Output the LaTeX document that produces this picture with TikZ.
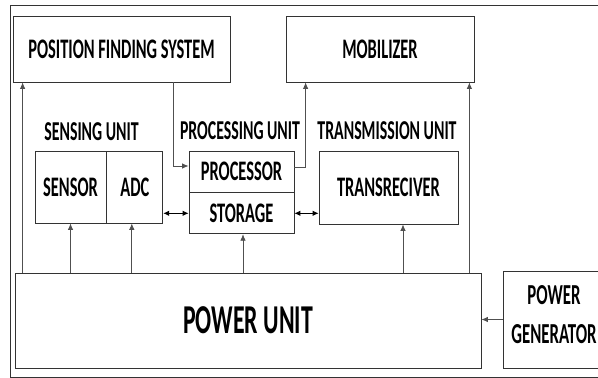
\documentclass[tikz,border=0pt]{standalone}
\usepackage{fontspec}
\usepackage{graphicx}
\setmainfont{Carlito}
\usetikzlibrary{arrows.meta}
\newcommand{\cz}[1]{\scalebox{0.58}[1]{#1}}
\definecolor{bord}{HTML}{333333}
\definecolor{wire}{HTML}{505050}
\tikzset{
  box/.style={draw=bord, line width=0.8pt, rectangle, inner sep=0pt, font=\bfseries\fontsize{28.3}{28.3}\selectfont},
  lbl/.style={inner sep=0pt, font=\bfseries\fontsize{27.3}{27.3}\selectfont},
  wirearr/.style={draw=wire, line width=0.8pt, -{Latex[length=6.5pt,width=5.5pt]}},
  dblarr/.style={draw=black, line width=0.9pt, {Latex[length=6pt,width=5.5pt]}-{Latex[length=6pt,width=5.5pt]}},
}
\begin{document}
\begin{tikzpicture}[x=1pt,y=-1pt]
\useasboundingbox (0,0) rectangle (598,378);
\clip (0,0) rectangle (598,378);
\fill[white] (0,0) rectangle (598,378);
% outer frame
\draw[bord, line width=0.8pt] (10,5) -- (610,5) (10,5) -- (10,377) -- (610,377);
% boxes
\node[box, minimum width=217pt, minimum height=66pt] (pfs) at (121.5,49) {\raisebox{-1.5pt}{\cz{POSITION FINDING SYSTEM}}};
\node[box, minimum width=188pt, minimum height=66pt] (mob) at (380,49) {\raisebox{-1.5pt}{\cz{MOBILIZER}}};
\node[box, minimum width=71pt, minimum height=72pt] (sensor) at (70.5,187) {\cz{SENSOR}};
\node[box, minimum width=56pt, minimum height=72pt, anchor=west] (adc) at (sensor.east) {\cz{ADC}};
\node[box, minimum width=105pt, minimum height=41pt] (proc) at (241.5,171.5) {\raisebox{-2pt}{\cz{PROCESSOR}}};
\node[box, minimum width=105pt, minimum height=41pt, anchor=north] (stor) at (proc.south) {\cz{STORAGE}};
\node[box, minimum width=139pt, minimum height=73pt] (trx) at (388.5,187.5) {\cz{TRANSRECIVER}};
\node[box, minimum width=466pt, minimum height=95pt, font=\bfseries\fontsize{41}{41}\selectfont] (pu) at (248,320.5) {\raisebox{-4pt}{\cz{POWER UNIT}}};
\node[box, minimum width=102pt, minimum height=97pt] (gen) at (554,319.5) {};
\node[inner sep=0pt, align=center, font=\bfseries\fontsize{29}{39}\selectfont] (gentext) at (554,314.5) {\cz{POWER}\\\cz{GENERATOR}};
% unit labels
\node[lbl] (slbl) at (91.5,132) {\cz{SENSING UNIT}};
\node[lbl] (plbl) at (240,130.5) {\cz{PROCESSING UNIT}};
\node[lbl] (tlbl) at (387,131) {\cz{TRANSMISSION UNIT}};
% connectors
\draw[wirearr] ([xshift=10pt]pfs.south west |- pu.north) -- ([xshift=10pt]pfs.south west);
\draw[wirearr] ([xshift=-5pt]mob.south east |- pu.north) -- ([xshift=-5pt]mob.south east);
\draw[wirearr] (sensor.south |- pu.north) -- (sensor.south);
\draw[wirearr] ([xshift=-3pt]adc.south |- pu.north) -- ([xshift=-3pt]adc.south);
\draw[wirearr] ([xshift=1.5pt]stor.south |- pu.north) -- ([xshift=1.5pt]stor.south);
\draw[wirearr] ([xshift=14.5pt]trx.south |- pu.north) -- ([xshift=14.5pt]trx.south);
\draw[wirearr] ([xshift=51.5pt]pfs.south) |- ([yshift=5.5pt]proc.west);
\draw[wirearr] ([yshift=4.5pt]proc.east) -| ([xshift=20pt]mob.south west);
\draw[dblarr] (adc.east |- stor.west) -- (stor.west);
\draw[dblarr] (stor.east) -- (stor.east -| trx.west);
\draw[wirearr] (gen.west) -- (pu.east |- gen.west);
\end{tikzpicture}
\end{document}
